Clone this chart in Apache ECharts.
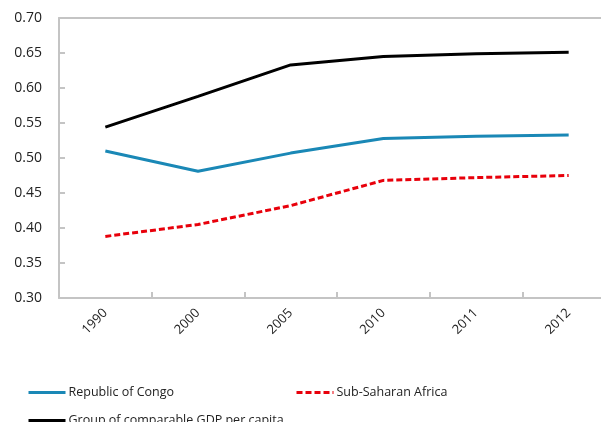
<!DOCTYPE html>
<html>
<head>
<meta charset="utf-8">
<script src="https://cdn.jsdelivr.net/npm/echarts@6/dist/echarts.min.js"></script>
<style>
  html, body { margin: 0; padding: 0; background: #fff; }
  #chart { width: 601px; height: 422px; }
</style>
</head>
<body>
<div id="chart"></div>
<script>
const years = ['1990', '2000', '2005', '2010', '2011', '2012'];
const congo = [0.510, 0.481, 0.507, 0.528, 0.531, 0.533];
const ssa = [0.388, 0.405, 0.432, 0.468, 0.472, 0.475];
const comparable = [0.544, 0.588, 0.633, 0.645, 0.649, 0.651];

const chart = echarts.init(document.getElementById('chart'));
const font = '"Open Sans", "Noto Sans", sans-serif';
const axisGrey = '#c4c4c4';

const legendBase = {
  orient: 'horizontal',
  itemWidth: 37,
  itemHeight: 12,
  itemGap: 4,
  itemStyle: { opacity: 0 },
  lineStyle: { width: 3 },
  textStyle: { fontFamily: font, fontSize: 12.5, color: '#222', padding: [0, 0, 0, -2] }
};

chart.setOption({
  animation: false,
  backgroundColor: '#fff',
  grid: {
    left: 59, top: 18, width: 556, height: 280,
    outerBoundsMode: 'none', containLabel: false
  },
  legend: [
    Object.assign({ left: 22, top: 381, data: ['Republic of Congo'] }, legendBase),
    Object.assign({ left: 290, top: 381, data: ['Sub-Saharan Africa'] }, legendBase),
    Object.assign({ left: 22, top: 409, data: ['Group of comparable GDP per capita'] }, legendBase)
  ],
  xAxis: [
    {
      type: 'category',
      data: years,
      boundaryGap: true,
      axisLine: { lineStyle: { color: axisGrey, width: 2 } },
      axisTick: { show: true, inside: true, length: 6, lineStyle: { color: axisGrey, width: 2 } },
      axisLabel: { rotate: 45, margin: 13, fontFamily: font, fontSize: 13, color: '#222' },
      splitLine: { show: false }
    },
    {
      // plain top edge of the plot frame
      type: 'category',
      data: years,
      position: 'top',
      axisLine: { lineStyle: { color: axisGrey, width: 2 } },
      axisTick: { show: false },
      axisLabel: { show: false },
      splitLine: { show: false }
    }
  ],
  yAxis: {
    type: 'value',
    min: 0.3, max: 0.7, interval: 0.05,
    axisLine: { show: true, lineStyle: { color: axisGrey, width: 2 } },
    axisTick: { show: true, inside: true, length: 6, lineStyle: { color: axisGrey, width: 2 } },
    axisLabel: {
      margin: 17, fontFamily: font, fontSize: 14, color: '#222',
      formatter: v => v.toFixed(2)
    },
    splitLine: { show: false }
  },
  series: [
    {
      name: 'Republic of Congo', type: 'line', data: congo,
      symbol: 'none', color: '#1a88b6',
      lineStyle: { width: 3, color: '#1a88b6' }
    },
    {
      name: 'Sub-Saharan Africa', type: 'line', data: ssa,
      symbol: 'none', color: '#e8000b',
      lineStyle: { width: 3, color: '#e8000b', type: [6, 3] }
    },
    {
      name: 'Group of comparable GDP per capita', type: 'line', data: comparable,
      symbol: 'none', color: '#000',
      lineStyle: { width: 3, color: '#000' }
    }
  ]
});
</script>
</body>
</html>
